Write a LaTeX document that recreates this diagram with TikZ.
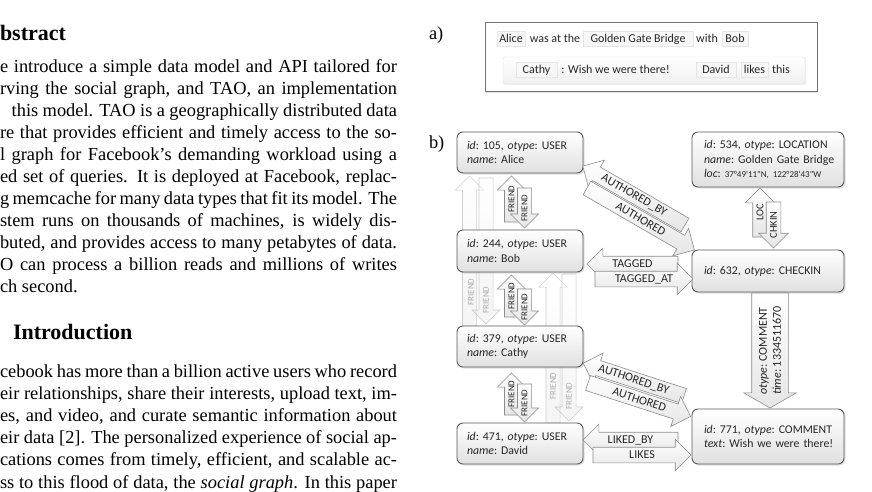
\documentclass[tikz,border=0pt]{standalone}
\usepackage{fontspec}
\setmainfont{Liberation Serif}
\newfontfamily\carlito{Carlito}
\usetikzlibrary{shapes.arrows,shadows,calc}
\newcommand{\fatarr}[7]{%
  \node[#1, anchor=tail, rotate=#4, minimum height=#5pt] (#2) at (#3) {};
  \node[#1lbl, rotate=#6] (#2l) at ($(#2.tail)!0.5!(#2.tip)$) {#7};}
\begin{document}
\begin{tikzpicture}[x=1pt,y=-1pt,
  every node/.style={inner sep=0pt, outer sep=0pt},
  body/.style={anchor=base west, font=\fontsize{18.4}{22}\selectfont},
  head/.style={anchor=base west, font=\bfseries\fontsize{22}{26}\selectfont},
  obj/.style={draw=black!65, line width=0.9pt, rounded corners=6pt, top color=white, bottom color=black!12,
    drop shadow={opacity=0.25, shadow xshift=1.5pt, shadow yshift=-1.5pt},
    inner xsep=10pt, align=left, text=black!85, font=\carlito\frenchspacing\fontsize{11.8}{14.5}\selectfont, anchor=north west},
  farrow/.style={single arrow, draw=black!45, line width=0.6pt, top color=white, bottom color=black!10,
    single arrow tip angle=90, inner xsep=0pt, inner ysep=2pt, text height=9.5pt, text depth=0pt,
    single arrow head extend=7pt},
  farrowlbl/.style={font=\carlito\fontsize{9}{9}\selectfont, text=black!85},
  fade/.style={farrow, opacity=0.4},
  fadelbl/.style={farrowlbl, opacity=0.35},
  narrow/.style={farrow, text height=11pt, single arrow head extend=8pt},
  narrowlbl/.style={font=\carlito\fontsize{12}{13}\selectfont, text=black!85},
  larrow/.style={farrow, text height=10pt, single arrow head extend=7.5pt},
  larrowlbl/.style={font=\carlito\fontsize{10.5}{11}\selectfont, text=black!85},
  carrow/.style={farrow, text height=32pt, single arrow head extend=8pt, single arrow tip angle=120},
  carrowlbl/.style={font=\carlito\frenchspacing\fontsize{12}{14}\selectfont, text=black!85, align=left},
  wbox/.style={draw=black!10, fill=black!3, minimum height=15pt, text=black!85,
    font=\carlito\fontsize{12}{14}\selectfont, text height=8.5pt, text depth=2.5pt},
  word/.style={text=black!85, font=\carlito\fontsize{12}{14}\selectfont, text height=8.5pt, text depth=2.5pt}
]
\useasboundingbox (0,0) rectangle (872,491);
\fill[white] (0,0) rectangle (872,491);
\clip (0,0) rectangle (872,491);

% ---------- left column text ----------
\node[head] (h1) at (0,40) {bstract};
\node[body] (l1) at (0,72.5) {\hbox to 397pt{e introduce a simple data model and API tailored for}};
\node[body] (l2) at (0,94.5) {\hbox to 397pt{rving the social graph, and TAO, an implementation}};
\node[body] (l3) at (11.7,116.5) {\hbox to 385.3pt{this model. TAO is a geographically distributed data}};
\node[body] (l4) at (0,138.5) {\hbox to 397pt{re that provides efficient and timely access to the so-}};
\node[body] (l5) at (0,160.5) {\hbox to 397pt{l graph for Facebook’s demanding workload using a}};
\node[body] (l6) at (0,182.5) {\hbox to 397pt{ed set of queries. It is deployed at Facebook, replac-}};
\node[body] (l7) at (0,204.5) {\hbox to 397pt{g memcache for many data types that fit its model. The}};
\node[body] (l8) at (0,226.5) {\hbox to 397pt{stem runs on thousands of machines, is widely dis-}};
\node[body] (l9) at (0,248.5) {\hbox to 397pt{buted, and provides access to many petabytes of data.}};
\node[body] (l10) at (0,270.5) {\hbox to 397pt{O can process a billion reads and millions of writes}};
\node[body] (l11) at (0,292.5) {ch second.};
\node[head] (h2) at (13,339) {Introduction};
\node[body] (m1) at (0,377) {\hbox to 397pt{cebook has more than a billion active users who record}};
\node[body] (m2) at (0,399.2) {\hbox to 397pt{eir relationships, share their interests, upload text, im-}};
\node[body] (m3) at (0,421.4) {\hbox to 397pt{es, and video, and curate semantic information about}};
\node[body] (m4) at (0,443.6) {\hbox to 397pt{eir data [2]. The personalized experience of social ap-}};
\node[body] (m5) at (0,465.8) {\hbox to 397pt{cations comes from timely, efficient, and scalable ac-}};
\node[body] (m6) at (0,488) {\hbox to 397pt{ss to this flood of data, the \textit{social graph}. In this paper}};

% ---------- panel labels ----------
\node[body] (la) at (429,39) {a)};
\node[body] (lb) at (429,148) {b)};

% ---------- panel a ----------
\node[draw=black!55, line width=0.9pt, fill=white, minimum width=332pt, minimum height=69pt, anchor=north west,
  drop shadow={opacity=0.2, shadow xshift=1pt, shadow yshift=-1.5pt}] (abox) at (485,22) {};
\node[draw=black!12, top color=white, bottom color=black!6, rounded corners=2pt, minimum width=302pt, minimum height=27pt, anchor=north west,
  drop shadow={opacity=0.12, shadow xshift=1pt, shadow yshift=-1pt}] (arow) at (503,57) {};
\node[wbox, minimum width=28pt] (w1) at (511,39) {Alice};
\node[word] (w2) at (555,39) {was at the};
\node[wbox, minimum width=110pt] (w3) at (638,39) {Golden Gate Bridge};
\node[word] (w4) at (707,39) {with};
\node[wbox, minimum width=26pt] (w5) at (735,39) {Bob};
\node[wbox, minimum width=41pt] (w6) at (536.5,70) {Cathy};
\node[word] (w7) at (615.5,70) {: Wish we were there!};
\node[wbox, minimum width=40pt] (w8) at (716,70) {David};
\node[wbox, minimum width=27pt] (w9) at (754.5,70) {likes};
\node[word] (w10) at (781,70) {this};

% ---------- faded friend edges (behind) ----------
\node[fade, anchor=tail, rotate=90, minimum height=150pt] (fa1) at (469.5,326) {};
\node[fade, anchor=tail, rotate=-90, minimum height=146pt] (fa2) at (486,178) {};
\node[fade, anchor=tail, rotate=90, minimum height=150pt] (fb1) at (553,423) {};
\node[fade, anchor=tail, rotate=-90, minimum height=147pt] (fb2) at (569,274) {};

% ---------- objects ----------
\node[obj, text width=106pt, minimum height=41pt] (alice) at (457,132) {\textit{id}: 105, \textit{otype}: USER\\\textit{name}: Alice};
\node[obj, text width=106pt, minimum height=42pt] (bob) at (457,230) {\textit{id}: 244, \textit{otype}: USER\\\textit{name}: Bob};
\node[obj, text width=106pt, minimum height=41pt] (cathy) at (457,326) {\textit{id}: 379, \textit{otype}: USER\\\textit{name}: Cathy};
\node[obj, text width=106pt, minimum height=41pt] (david) at (457,423) {\textit{id}: 471, \textit{otype}: USER\\\textit{name}: David};
\node[obj, inner xsep=12pt, text width=128pt, minimum height=55pt] (loc) at (692,132) {\mbox{\textit{id}: 534, \textit{otype}: LOCATION}\\\mbox{\textit{name}: Golden Gate Bridge}\\\mbox{\textit{loc}: {\fontsize{9}{9}\selectfont 37°49'11"N, 122°28'43"W}}};
\node[obj, inner xsep=12pt, text width=128pt, minimum height=42pt] (chk) at (692,250) {\mbox{\textit{id}: 632, \textit{otype}: CHECKIN}};
\node[obj, inner xsep=12pt, text width=128pt, minimum height=55pt] (cmt) at (692,409) {\mbox{\textit{id}: 771, \textit{otype}: COMMENT}\\\mbox{\textit{text}: Wish we were there!}};

% faded labels visible below the covering objects
\node[fadelbl, rotate=90] (fa1l) at (471,292) {FRIEND};
\node[fadelbl, rotate=90] (fa2l) at (486,300) {FRIEND};
\node[fadelbl, rotate=90] (fb1l) at (553,386) {FRIEND};
\node[fadelbl, rotate=90] (fb2l) at (569,396) {FRIEND};

% ---------- associations ----------
\fatarr{farrow}{f1u}{511.5,222}{90}{46}{90}{FRIEND}
\fatarr{farrow}{f1d}{524.5,188}{-90}{40}{90}{FRIEND}
\fatarr{farrow}{f2u}{511.5,317}{90}{42}{90}{FRIEND}
\fatarr{farrow}{f2d}{524.5,289}{-90}{36}{90}{FRIEND}
\fatarr{farrow}{f3u}{511.5,415}{90}{42}{90}{FRIEND}
\fatarr{farrow}{f3d}{524.5,384}{-90}{38}{90}{FRIEND}

\fatarr{narrow}{au1b}{685,225}{150}{118}{-30}{AUTHORED\_BY}
\fatarr{narrow}{au1}{587,188}{-30}{124}{-30}{AUTHORED}
\fatarr{narrow}{tg}{678,264}{180}{91}{0}{TAGGED}
\fatarr{narrow}{tga}{595,279}{0}{98}{0}{TAGGED\_AT}
\fatarr{narrow}{au2b}{684,396}{162}{106}{-18}{AUTHORED\_BY}
\fatarr{narrow}{au2}{588,383}{-18}{108}{-18}{AUTHORED}
\fatarr{narrow}{lb}{678,440}{180}{95}{0}{LIKED\_BY}
\fatarr{narrow}{lk}{593,455}{0}{98}{0}{LIKES}
\fatarr{larrow}{lc}{760,237}{90}{49}{90}{LOC}
\fatarr{larrow}{ck}{773.5,202}{-90}{46}{90}{CHKIN}
\fatarr{carrow}{cm}{770,293}{-90}{115}{90}{\textit{otype}: COMMENT\\\textit{time}: 1334511670}
\end{tikzpicture}
\end{document}
